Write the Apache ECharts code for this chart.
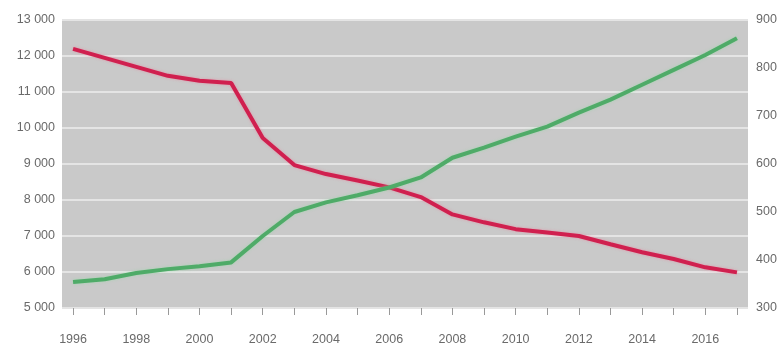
<!DOCTYPE html>
<html><head><meta charset="utf-8">
<script src="https://cdn.jsdelivr.net/npm/echarts@6/dist/echarts.min.js"></script>
<style>html,body{margin:0;padding:0;background:#fff}#c{width:783px;height:349px}</style>
</head><body><div id="c"></div>
<script>
const years = [1996,1997,1998,1999,2000,2001,2002,2003,2004,2005,2006,2007,2008,2009,2010,2011,2012,2013,2014,2015,2016,2017];
const redValues = [12200,11950,11700,11450,11310,11250,9720,8970,8720,8540,8350,8080,7600,7380,7190,7100,7000,6770,6550,6360,6130,5990];
const greenValues = [354,360,373,381,387,395,450,500,520,535,551,572,613,634,657,678,707,734,765,796,827,862];
const xLabelYears = [1996,1998,2000,2002,2004,2006,2008,2010,2012,2014,2016];
const leftTicks = [5000,6000,7000,8000,9000,10000,11000,12000,13000];
const rightTicks = [300,400,500,600,700,800,900];

const fmt = v => { const s = String(v); return s.length > 3 ? s.slice(0, -3) + ' ' + s.slice(-3) : s; };
const chart = echarts.init(document.getElementById('c'));
const font = {fontFamily:'Liberation Sans', fontSize:12.5, color:'#6a6a6a'};
chart.setOption({
  animation:false,
  grid:{left:62, right:35, top:20, bottom:41, show:true, backgroundColor:'#c9c9c9', borderWidth:0},
  xAxis:{type:'value', min:1995.65, max:2017.35,
    axisLine:{show:false}, splitLine:{show:false},
    axisTick:{show:true, customValues:years, length:7, inside:false, lineStyle:{color:'#999'}},
    axisLabel:Object.assign({customValues:xLabelYears, margin:25, formatter:v=>String(v)}, font)},
  yAxis:[
    {type:'value', min:leftTicks[0], max:leftTicks[leftTicks.length-1], interval:1000, position:'left',
     axisLine:{show:false}, axisTick:{show:false},
     splitLine:{show:true, lineStyle:{color:'#e4e4e4', width:2}},
     axisLabel:Object.assign({formatter:v=>fmt(v), margin:7}, font)},
    {type:'value', min:rightTicks[0], max:rightTicks[rightTicks.length-1], interval:100, position:'right',
     axisLine:{show:false}, axisTick:{show:false}, splitLine:{show:false},
     axisLabel:Object.assign({margin:8}, font)}
  ],
  series:[
    {type:'line', yAxisIndex:0, data:years.map((y,i)=>[y,redValues[i]]), symbol:'none',
     lineStyle:{color:'#d0204f', width:4, shadowColor:'rgba(240,120,150,0.6)', shadowBlur:3}},
    {type:'line', yAxisIndex:1, data:years.map((y,i)=>[y,greenValues[i]]), symbol:'none',
     lineStyle:{color:'#4fab68', width:4, shadowColor:'rgba(140,220,160,0.6)', shadowBlur:3}}
  ]
});
</script></body></html>
